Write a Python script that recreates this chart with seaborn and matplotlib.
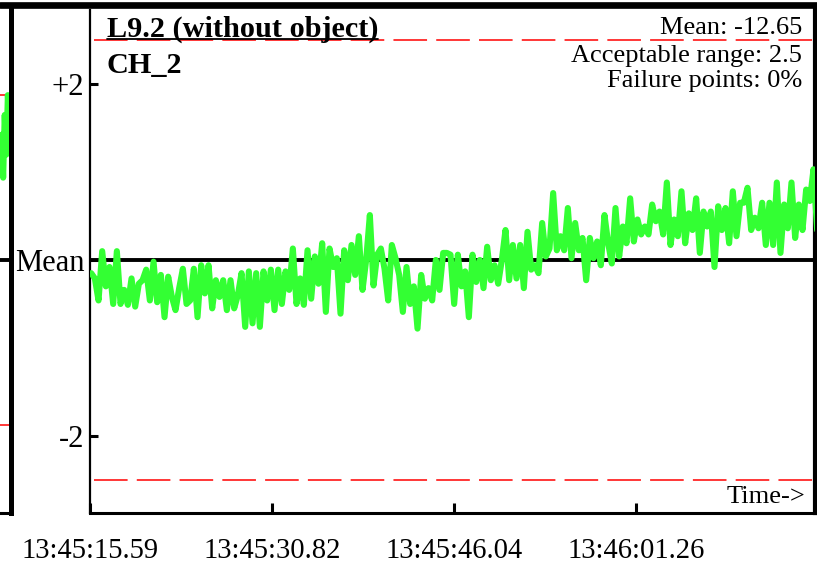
import numpy as np
import matplotlib
matplotlib.use("Agg")
import matplotlib.pyplot as plt
import seaborn as sns
from matplotlib.lines import Line2D

# ==========================================================
# 1. DADOS
# ==========================================================
tick_labels = ["13:45:15.59", "13:45:30.82", "13:45:46.04", "13:46:01.26"]
tick_secs = [0.0, 15.23, 30.45, 45.67]
x_span = 60.67  # segundos visíveis no painel

# desvio em relação à média, canal CH_2
ch2_values = [
    -0.15, -0.21, -0.46, 0.10, -0.30, -0.08, -0.50, 0.10, -0.50, -0.34,
    -0.51, -0.21, -0.53, -0.27, -0.23, -0.11, -0.46, -0.02, -0.48, -0.17,
    -0.65, -0.19, -0.42, -0.57, -0.32, -0.10, -0.50, -0.46, -0.10, -0.65,
    -0.06, -0.38, -0.06, -0.55, -0.23, -0.42, -0.23, -0.57, -0.23, -0.55,
    -0.40, -0.15, -0.76, -0.13, -0.72, -0.15, -0.76, -0.13,
    -0.46, -0.11, -0.57, -0.11, -0.50, -0.13, -0.34, 0.13, -0.50, -0.21,
    -0.51, 0.11, -0.44, 0.04, -0.27, 0.19, -0.59, 0.13, -0.08, 0.02,
    -0.61, 0.11, -0.23, 0.17, -0.17, 0.27, -0.34, 0.00, 0.51, -0.29,
    0.06, 0.13, -0.10, -0.46, 0.17, 0.02, -0.17, -0.59, -0.08, -0.50,
    -0.30, -0.78, -0.17, -0.44, -0.32, -0.46, 0.00, -0.34, 0.08,
    0.08, 0.06, -0.50, 0.06, -0.30, -0.13, -0.65, 0.06, -0.25, 0.00,
    -0.32, 0.15, -0.23, -0.06, -0.27, 0.00, 0.34, -0.23, 0.17, -0.21,
    0.17, -0.32, 0.32, -0.11, -0.06, -0.15, 0.42, 0.04, 0.13, 0.76,
    0.11, 0.27, 0.11, 0.59, 0.02, 0.42, 0.11, 0.25, -0.23, 0.25,
    0.02, 0.21, -0.06, 0.51, 0.19, -0.04, 0.59, 0.04, 0.38,
    0.19, 0.70, 0.21, 0.46, 0.29, 0.38, 0.29, 0.63, 0.44, 0.55,
    0.29, 0.88, 0.17, 0.46, 0.27, 0.78, 0.19, 0.53, 0.34, 0.70,
    0.08, 0.55, 0.38, 0.55, -0.08, 0.61, 0.34, 0.59, 0.19, 0.78,
    0.27, 0.65, 0.65, 0.82, 0.34, 0.48, 0.36, 0.65, 0.17, 0.65,
    0.17, 0.88, 0.08, 0.63, 0.36, 0.88, 0.25, 0.63, 0.34, 0.80,
    0.67, 1.03, 0.34,
]

# final do painel anterior (canto esquerdo)
prev_values = [1.3, 1.9, 1.25, 2.2, 1.6, 2.5, 2.0]

acceptable_range = 2.5
info_lines = ["Mean: -12.65", "Acceptable range: 2.5", "Failure points: 0%"]
title_lines = ["L9.2 (without object)", "CH_2"]

# ==========================================================
# 2. CONFIGURAÇÕES VISUAIS
# ==========================================================
sns.set_theme(style="white")
plt.rcParams["font.family"] = ["Liberation Serif", "DejaVu Serif"]

GREEN = "#33ff33"

fig = plt.figure(figsize=(8.17, 5.65), dpi=100)
ax = fig.add_axes([90 / 817, 52 / 565, 725 / 817, 503 / 565])
ax0 = fig.add_axes([0, 52 / 565, 10.5 / 817, 503 / 565])

# ==========================================================
# 3. PAINEL PRINCIPAL
# ==========================================================
t = np.linspace(0.1, 60.85, len(ch2_values))
ax.axhline(0, color="black", lw=2.8, zorder=2)
for s in (1, -1):
    ax.axhline(s * acceptable_range, xmin=0.005, color="red", lw=1.1,
               dashes=(22, 6), zorder=1)
sns.lineplot(x=t, y=ch2_values, ax=ax, color=GREEN, lw=4.4, zorder=3)

ax.set_xlim(0, x_span)
ax.set_ylim(-2.875, 2.84)
ax.set_xticks(tick_secs, labels=tick_labels)
ax.set_yticks([2, 0, -2], labels=["+2", "Mean", "-2"])
ax.tick_params(axis="x", direction="in", length=7, width=2.2,
               labelsize=20.6, pad=18, bottom=True, colors="black")
ax.tick_params(axis="y", direction="in", length=6, width=2.2,
               labelsize=22, pad=4, left=True, colors="black")
ax.set_xlabel("")
ax.set_ylabel("")

ax.spines["top"].set_visible(False)
ax.spines["left"].set_linewidth(1.6)
ax.spines["bottom"].set_linewidth(2.2)
ax.spines["right"].set_linewidth(3)
for sp in ax.spines.values():
    sp.set_color("black")

title_y = [0.946, 0.875]
txt = None
for s, yy in zip(title_lines, title_y):
    tt = ax.text(0.0234, yy, s, transform=ax.transAxes, fontsize=21.8,
                 fontweight="bold", va="baseline", ha="left", color="black")
    if txt is None:
        txt = tt

info_y = [0.9523, 0.897, 0.847]
for s, yy in zip(info_lines, info_y):
    ax.text(0.982, yy, s, transform=ax.transAxes, fontsize=19,
            va="baseline", ha="right", color="black")

ax.text(0.986, 0.02, "Time->", transform=ax.transAxes, fontsize=19,
        va="baseline", ha="right", color="black")

# ==========================================================
# 4. PAINEL ANTERIOR (só a borda direita aparece)
# ==========================================================
ax0.axhline(0, color="black", lw=2.8)
for s in (1, -1):
    ax0.axhline(s * acceptable_range, color="red", lw=1.1, dashes=(22, 6))
sns.lineplot(x=np.linspace(0, 0.9, len(prev_values)), y=prev_values,
             ax=ax0, color=GREEN, lw=4.4)
ax0.set_xlim(0, 1)
ax0.set_ylim(-3.83, 3.79)
ax0.set_xticks([])
ax0.set_yticks([])
ax0.set_xlabel("")
ax0.set_ylabel("")
ax0.spines["top"].set_visible(False)
ax0.spines["left"].set_visible(False)
ax0.spines["right"].set_linewidth(3.6)
ax0.spines["bottom"].set_linewidth(2.2)
for sp in ax0.spines.values():
    sp.set_color("black")

# faixa preta superior
fig.add_artist(Line2D([0, 1], [1 - 5 / 565, 1 - 5 / 565], color="black",
                      lw=4.8, transform=fig.transFigure))

# sublinhado do título
fig.canvas.draw()
bb = txt.get_window_extent(renderer=fig.canvas.get_renderer())
inv = fig.transFigure.inverted()
bx0, _ = inv.transform((bb.x0, 0))
bx1, _ = inv.transform((bb.x1, 0))
_, by = inv.transform(ax.transAxes.transform((0, title_y[0])))
by -= 2 / 565
fig.add_artist(Line2D([bx0, bx1], [by, by], color="black", lw=1.3,
                      transform=fig.transFigure))

plt.savefig("out.png", dpi=100)
plt.close()
